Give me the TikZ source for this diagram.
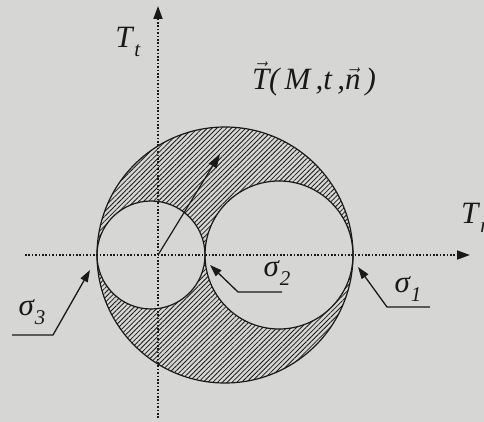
\documentclass[tikz,border=0pt]{standalone}
\usepackage{fontspec}
\setmainfont{Liberation Serif}
\usetikzlibrary{patterns.meta,arrows.meta}
\definecolor{paper}{RGB}{214,214,212}
\definecolor{ink}{RGB}{25,25,25}
\newcommand{\vecit}[1]{$\vec{\hbox{\itshape #1}}$}
\newcommand{\subit}[2]{\textit{#1}\raisebox{-0.3em}{\fontsize{21}{24}\selectfont\textit{#2}}}
\begin{document}
\begin{tikzpicture}[x=1pt,y=-1pt,
  lbl/.style={font=\fontsize{31}{35}\selectfont, text=ink, inner sep=0pt},
  axis/.style={ink, line width=1.8pt, dash pattern=on 1.6pt off 1.8pt, -{Triangle[length=13pt,width=9pt]}},
  circ/.style={ink, line width=1.2pt},
  leader/.style={ink, line width=1.3pt, {Triangle[length=12pt,width=8pt]}-},
  hatch/.style={pattern={Lines[angle=45,distance=3.4pt,line width=0.8pt]}, pattern color=ink, even odd rule}]
\fill[paper] (0,0) rectangle (484,422);
\useasboundingbox (0,0) rectangle (484,422);
% circles
\coordinate (C) at (225,255);
\coordinate (C3) at (151,255);
\coordinate (C1) at (279,255);
\fill[hatch] (C) circle[radius=128pt] (C3) circle[radius=54pt] (C1) circle[radius=74pt];
\draw[circ] (C) circle[radius=128pt];
\draw[circ] (C3) circle[radius=54pt];
\draw[circ] (C1) circle[radius=74pt];
% axes
\coordinate (O) at (158,255);
\coordinate (xs) at (25,255);
\coordinate (xe) at (470,255);
\coordinate (ys) at (158,418);
\coordinate (ye) at (158,6);
\draw[axis] (xs) -- (xe);
\draw[axis] (ys) -- (ye);
% vector
\coordinate (Vt) at (220,154);
\draw[ink, line width=1.2pt, -{Triangle[length=14pt,width=9pt]}] (O) -- (Vt);
% labels
\node[lbl] (Tt) at (128,42) {\subit{T}{t}};
\node[lbl, anchor=west] (Tn) at (461,218) {\subit{T}{n}};
\node[lbl] (Tv) at (314,79) {\vecit{T}\textit{(\,M\,,t\,,\vecit{n}\,)}};
\node[lbl] (s3) at (32,312) {\subit{σ}{3}};
\node[lbl] (s2) at (277,273) {\subit{σ}{2}};
\node[lbl] (s1) at (408,289) {\subit{σ}{1}};
% leaders
\coordinate (a3) at (90,270); \coordinate (b3) at (53,335); \coordinate (c3) at (12,335);
\draw[leader] (a3) -- (b3) -- (c3);
\coordinate (a2) at (210,265); \coordinate (b2) at (238,292); \coordinate (c2) at (282,292);
\draw[leader] (a2) -- (b2) -- (c2);
\coordinate (a1) at (358,267); \coordinate (b1) at (387,307); \coordinate (c1) at (430,307);
\draw[leader] (a1) -- (b1) -- (c1);
\end{tikzpicture}
\end{document}
